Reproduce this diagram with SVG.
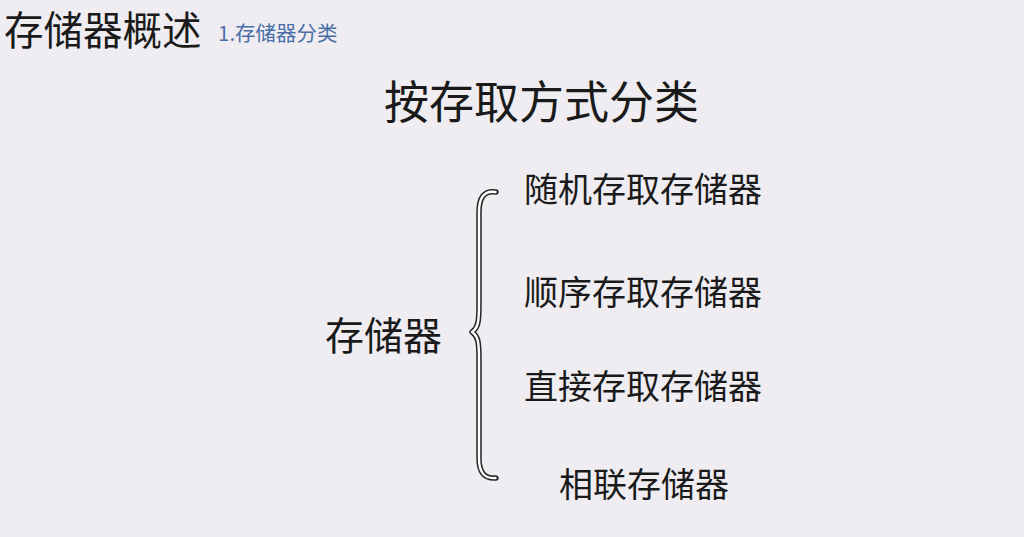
<svg xmlns="http://www.w3.org/2000/svg" width="1024" height="537" viewBox="0 0 1024 537">
<style>
text{font-family:"Noto Sans CJK SC","Noto Sans",sans-serif;fill:#1a1a1a}
.item{font-size:34px}
.brace{fill:none;stroke-linecap:round;stroke-linejoin:round}
</style>
<rect width="1024" height="537" fill="#efedf1"/>
<g id="header">
<text x="4" y="45" font-size="39.5">存储器概述</text>
<text x="218" y="41" font-size="20.5" style="fill:#4a6ea6">1.存储器分类</text>
</g>
<g id="title"><text x="384" y="119" font-size="45">按存取方式分类</text></g>
<g id="root"><text x="325" y="350" font-size="39">存储器</text></g>
<g id="connectors">
<path class="brace" stroke="#2a2a2a" stroke-width="5.5" d="M496,192 C484,190 479,198 479,212 L479,305 C479,322 478,328 472,332 C478,336 479,342 479,358 L479,458 C479,472 484,479 496,478"/>
<path class="brace" stroke="#ffffff" stroke-width="2.4" d="M495.5,192 C484,190 479,198 479,212 L479,305 C479,322 478,328 472,332 C478,336 479,342 479,358 L479,458 C479,472 484,479 495.5,478"/>
</g>
<g id="n1"><text class="item" x="524" y="202">随机存取存储器</text></g>
<g id="n2"><text class="item" x="524" y="305">顺序存取存储器</text></g>
<g id="n3"><text class="item" x="524" y="399">直接存取存储器</text></g>
<g id="n4"><text class="item" x="559" y="497">相联存储器</text></g>
</svg>
